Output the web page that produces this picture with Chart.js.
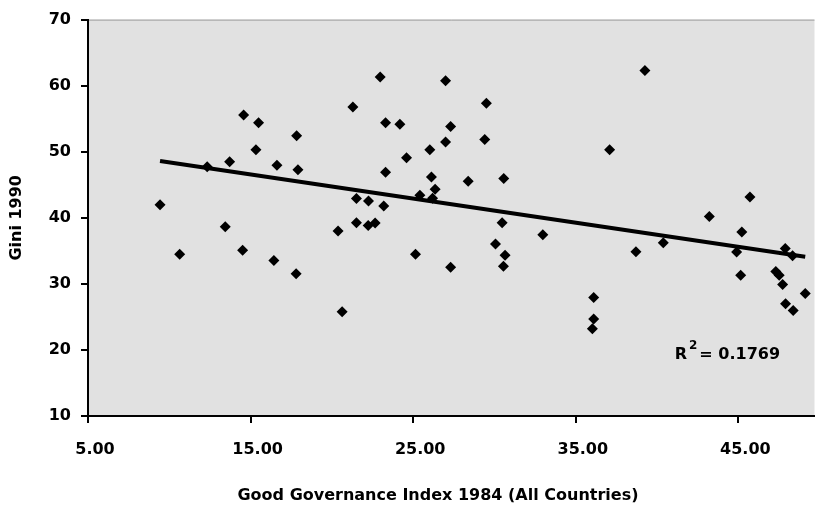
<!DOCTYPE html>
<html>
<head>
<meta charset="utf-8">
<script src="https://cdn.jsdelivr.net/npm/chart.js@4.4.0/dist/chart.umd.min.js"></script>
<style>
html,body{margin:0;padding:0;background:#ffffff;overflow:hidden}
#wrap{width:815px;height:510px;position:relative;overflow:hidden}
</style>
</head>
<body>
<div id="wrap"><canvas id="c" width="820" height="510"></canvas></div>
<script>
// Good Governance Index 1984 (All Countries) — x values
const governance = [9.43,10.64,12.33,13.44,13.71,14.51,14.57,15.33,15.49,16.43,16.62,17.80,17.83,17.91,20.38,20.63,21.29,21.51,21.51,22.23,22.25,22.66,22.97,23.19,23.30,23.30,24.18,24.59,25.14,25.41,26.02,26.12,26.19,26.35,26.99,26.99,27.30,27.30,28.38,29.40,29.50,30.06,30.47,30.57,30.65,30.55,32.97,36.10,36.10,36.02,37.08,38.70,39.25,40.38,43.21,44.89,45.21,45.14,45.71,47.30,47.51,47.72,47.88,48.33,49.11,47.90,48.37];
// Gini 1990 — y values
const gini = [41.96,34.47,47.73,38.64,48.49,35.07,55.57,50.30,54.37,33.52,47.94,31.55,52.41,47.28,37.99,25.78,56.78,42.91,39.25,38.84,42.56,39.20,61.30,41.80,54.37,46.88,54.17,49.09,34.47,43.42,50.30,46.18,42.97,44.32,60.76,51.46,53.82,32.50,45.53,51.86,57.34,36.03,39.25,45.93,34.32,32.66,37.44,27.94,24.67,23.22,50.30,34.87,62.31,36.23,40.20,34.82,37.84,31.30,43.16,31.86,31.30,29.90,35.37,34.27,28.54,26.99,25.98];
const xTickValues = [5, 15, 25, 35, 45];
const yTickValues = [10, 20, 30, 40, 50, 60, 70];
const xTitle = 'Good Governance Index 1984 (All Countries)';
const yTitle = 'Gini 1990';
const r2Text = '0.1769';

// least-squares trend line from the data
const n = governance.length;
const mx = governance.reduce((a,b)=>a+b,0)/n;
const my = gini.reduce((a,b)=>a+b,0)/n;
let sxy = 0, sxx = 0;
for (let i=0;i<n;i++){ sxy += (governance[i]-mx)*(gini[i]-my); sxx += (governance[i]-mx)**2; }
const slope = sxy/sxx, intercept = my - slope*mx;
const xMin = Math.min(...governance), xMax = Math.max(...governance);
const trend = [{x:xMin, y:intercept+slope*xMin},{x:xMax, y:intercept+slope*xMax}];

const points = governance.map((x,i)=>({x, y:gini[i]}));
const FONT = 'DejaVu Sans';

const bgPlugin = {
  id: 'bg',
  beforeDraw(chart) {
    const {ctx, chartArea:a} = chart;
    ctx.save();
    ctx.fillStyle = '#e1e1e1';
    ctx.fillRect(a.left, a.top, a.right - a.left, a.bottom - a.top);
    ctx.strokeStyle = '#9a9a9a';
    ctx.lineWidth = 1;
    ctx.beginPath();
    ctx.moveTo(a.left, a.top + 0.5);
    ctx.lineTo(a.right, a.top + 0.5);
    ctx.stroke();
    ctx.restore();
  },
  afterDraw(chart) {
    const {ctx, scales} = chart;
    ctx.save();
    ctx.fillStyle = '#000';
    // x axis title
    ctx.font = 'bold 16px "' + FONT + '"';
    ctx.textAlign = 'center';
    ctx.textBaseline = 'alphabetic';
    ctx.fillText(xTitle, 438, 500);
    // R^2 label
    const x0 = scales.x.getPixelForValue(41.08);
    const base = scales.y.getPixelForValue(18.7);
    ctx.textAlign = 'left';
    ctx.fillText('R', x0, base);
    const w = ctx.measureText('R').width;
    ctx.font = 'bold 12px "' + FONT + '"';
    ctx.fillText('2', x0 + w + 2, base - 10);
    const w2 = ctx.measureText('2').width;
    ctx.font = 'bold 16px "' + FONT + '"';
    ctx.fillText('= ' + r2Text, x0 + w + 2 + w2 + 2, base);
    ctx.restore();
  }
};

new Chart(document.getElementById('c'), {
  type: 'scatter',
  data: {
    datasets: [
      {
        label: 'Gini',
        data: points,
        pointStyle: 'rectRot',
        pointRadius: 5.5,
        pointHoverRadius: 5.5,
        backgroundColor: '#000',
        borderColor: '#000',
        borderWidth: 0,
        order: 2
      },
      {
        label: 'Linear trend',
        type: 'line',
        data: trend,
        borderColor: '#000',
        borderWidth: 4,
        pointRadius: 0,
        fill: false,
        order: 1
      }
    ]
  },
  plugins: [bgPlugin],
  options: {
    responsive: false,
    animation: false,
    events: [],
    layout: { padding: { top: 18, right: 0, bottom: 0, left: 0 } },
    plugins: { legend: { display: false }, tooltip: { enabled: false } },
    scales: {
      x: {
        type: 'linear',
        min: 5,
        max: 49.68,
        afterBuildTicks(s) { s.ticks = xTickValues.map(v => ({value: v})); },
        afterFit(s) { s.height = 94; },
        border: { display: true, color: '#000', width: 2 },
        grid: { drawOnChartArea: false, drawTicks: true, tickLength: 7, color: '#000', lineWidth: 2 },
        ticks: {
          color: '#000',
          font: { family: FONT, size: 16, weight: 'bold' },
          padding: 17,
          labelOffset: 7,
          maxRotation: 0,
          callback: v => Number(v).toFixed(2)
        },
        title: { display: false }
      },
      y: {
        type: 'linear',
        min: 10,
        max: 70,
        afterBuildTicks(s) { s.ticks = yTickValues.map(v => ({value: v})); },
        afterFit(s) { s.width = 88; },
        border: { display: true, color: '#000', width: 2 },
        grid: { drawOnChartArea: false, drawTicks: true, tickLength: 7, color: '#000', lineWidth: 2 },
        ticks: {
          color: '#000',
          font: { family: FONT, size: 16, weight: 'bold' },
          padding: 10
        },
        title: {
          display: true,
          text: yTitle,
          color: '#000',
          font: { family: FONT, size: 16, weight: 'bold' },
          padding: { top: 7, bottom: 0 }
        }
      }
    }
  }
});
</script>
</body>
</html>
